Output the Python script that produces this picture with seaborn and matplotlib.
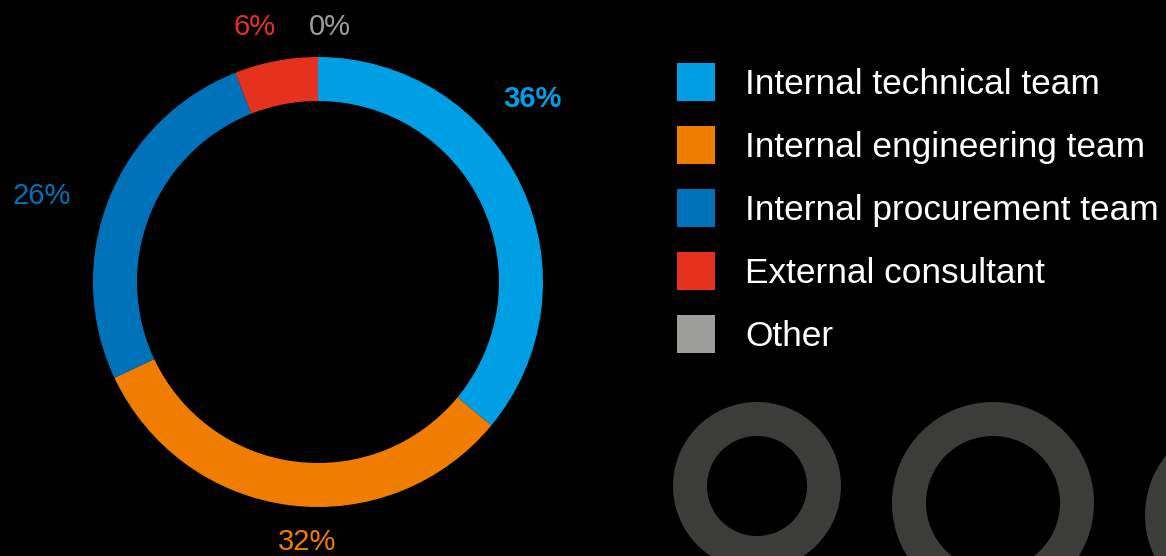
import matplotlib
matplotlib.use("Agg")
import matplotlib.pyplot as plt
from matplotlib.patches import Patch
import seaborn as sns

sns.set_theme(style="white")
plt.rcParams["font.family"] = ["Liberation Sans", "DejaVu Sans"]

# Share of responses by team
categories = [
    "Internal technical team",
    "Internal engineering team",
    "Internal procurement team",
    "External consultant",
    "Other",
]
shares = [36, 32, 26, 6, 0]
colors = sns.color_palette(["#009FE3", "#F07D00", "#0072BA", "#E4321E", "#9D9D9C"])

W, H = 1166, 556
fig = plt.figure(figsize=(W / 100, H / 100), dpi=100, facecolor="black")
ax = fig.add_axes([0, 0, 1, 1])
ax.set_facecolor("black")

# main donut, clockwise from 12 o'clock
cx, cy, R, ring = 318, H - 282, 225, 44
ax.pie(shares, colors=colors, startangle=90, counterclock=False,
       radius=R, center=(cx, cy), frame=True,
       wedgeprops=dict(width=ring, linewidth=0))

# decorative rings in the lower right corner
ring_grey = "#3C3C3B"
for (rx, ry, rr, rw) in [(757, H - 486, 84, 34), (993, H - 503, 101, 34), (1240, H - 515, 95, 34)]:
    ax.pie([1], colors=[ring_grey], radius=rr, center=(rx, ry), frame=True,
           wedgeprops=dict(width=rw, linewidth=0))

ax.set_xlim(0, W)
ax.set_ylim(0, H)
ax.set_aspect("equal")
ax.set_axis_off()

# percentage labels
label_pos = [(532, 99), (307, 542), (42, 196), (255, 27), (330, 27)]
for (lx, ly), v, c, i in zip(label_pos, shares, colors, range(len(shares))):
    ax.text(lx, H - ly, f"{v}%", color=c, fontsize=21,
            fontweight="bold" if i == 0 else "normal",
            ha="center", va="center")

# legend: 38px squares, 63px row pitch
fs = 25.4
fs_pt_px = fs * 100 / 72
sq_pt = 38 * 72 / 100
hh = (sq_pt - 0.35 * 0.7 * fs) / (0.65 * fs)
handles = [Patch(facecolor=c, edgecolor="none", label=l) for c, l in zip(colors, categories)]
leg = fig.legend(handles=handles, loc="upper left",
                 bbox_to_anchor=(677 / W, 1 - 63 / H), bbox_transform=fig.transFigure,
                 frameon=False, fontsize=fs, borderpad=0, borderaxespad=0,
                 handlelength=38 / fs_pt_px, handleheight=hh,
                 handletextpad=30 / fs_pt_px, labelspacing=25 / fs_pt_px)
for t in leg.get_texts():
    t.set_color("white")

fig.savefig("out.png", dpi=100, facecolor="black")
